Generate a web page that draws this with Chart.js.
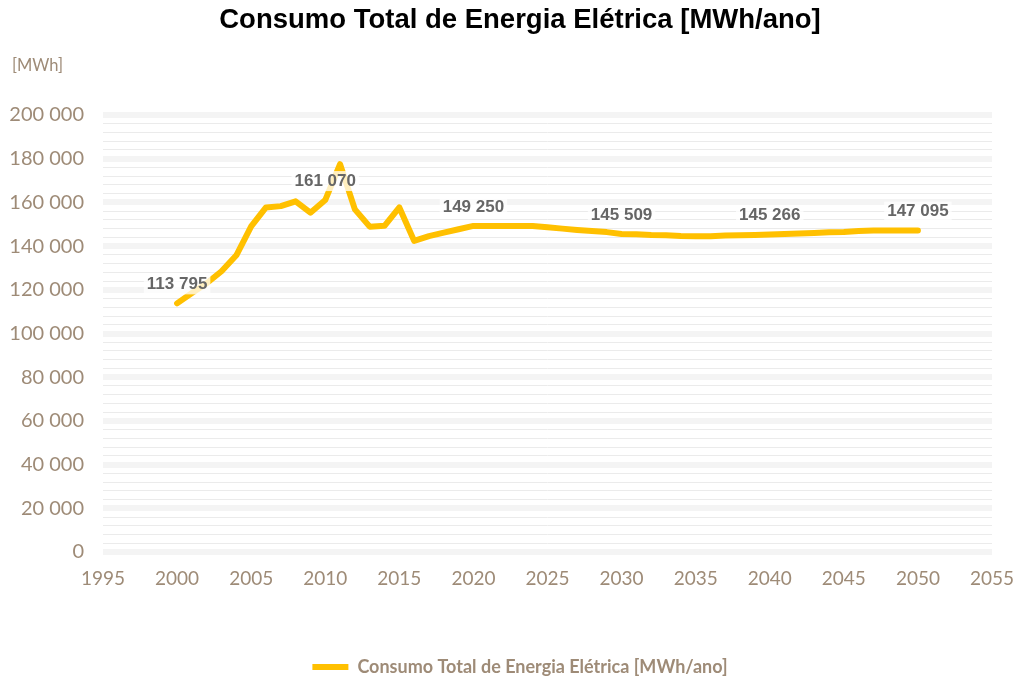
<!DOCTYPE html>
<html lang="pt">
<head>
<meta charset="utf-8">
<title>Consumo Total de Energia Elétrica</title>
<script src="https://cdn.jsdelivr.net/npm/chart.js@4/dist/chart.umd.min.js"></script>
<style>
    html, body { margin: 0; padding: 0; background: #ffffff; overflow: hidden; }
    /* a caixa é um pouco maior que a janela para centrar título e legenda como no original */
    #chart-box { width: 1040px; height: 686px; }
</style>
</head>
<body>
<div id="chart-box"><canvas id="energyChart"></canvas></div>
<script>
const years = [
    2000, 2001, 2002, 2003, 2004, 2005, 2006, 2007, 2008, 2009,
    2010, 2011, 2012, 2013, 2014, 2015, 2016, 2017, 2018, 2019,
    2020, 2021, 2022, 2023, 2024, 2025, 2026, 2027, 2028, 2029,
    2030, 2031, 2032, 2033, 2034, 2035, 2036, 2037, 2038, 2039,
    2040, 2041, 2042, 2043, 2044, 2045, 2046, 2047, 2048, 2049,
    2050
];
const consumo = [
    113795, 118500, 123000, 128500, 135800, 149000, 157700, 158300, 160500, 155300,
    161070, 177500, 156800, 148900, 149300, 157700, 142400, 144600, 146200, 147700,
    149250, 149250, 149250, 149250, 149200, 148600, 148000, 147400, 146900, 146400,
    145509, 145400, 145100, 145000, 144600, 144500, 144500, 144800, 145000, 145100,
    145266, 145500, 145800, 146000, 146300, 146500, 146900, 147095, 147095, 147095,
    147095
];
const labelYears = [2000, 2010, 2020, 2030, 2040, 2050];
const seriesName = 'Consumo Total de Energia Elétrica [MWh/ano]';
const unitLabel = '[MWh]';

const brown = '#9e8b77';
const gold = '#ffc000';

function formatNumber(num) {
    return num.toString().replace(/\B(?=(\d{3})+(?!\d))/g, " ");
}

// rótulos de valor com fundo branco, por cima da linha
const valueLabels = {
    id: 'valueLabels',
    afterDatasetsDraw(chart) {
        const ctx = chart.ctx;
        const meta = chart.getDatasetMeta(0);
        ctx.save();
        ctx.font = 'bold 17px "Liberation Sans", Arial, sans-serif';
        ctx.textAlign = 'center';
        ctx.textBaseline = 'middle';
        labelYears.forEach(year => {
            const i = years.indexOf(year);
            const pt = meta.data[i];
            const text = formatNumber(consumo[i]);
            const w = ctx.measureText(text).width;
            const y = pt.y - 19;
            ctx.fillStyle = 'rgba(255,255,255,0.75)';
            ctx.fillRect(pt.x - w / 2 - 3, y - 10, w + 6, 20);
            ctx.fillStyle = '#666666';
            ctx.fillText(text, pt.x, y);
        });
        ctx.restore();
    }
};

const unitText = {
    id: 'unitText',
    afterDraw(chart) {
        const ctx = chart.ctx;
        ctx.save();
        ctx.font = '16.5px Lato, sans-serif';
        ctx.fillStyle = brown;
        ctx.textAlign = 'left';
        ctx.textBaseline = 'middle';
        ctx.fillText(unitLabel, 12, 66);
        ctx.restore();
    }
};

function createChart() {
    const ctx = document.getElementById('energyChart').getContext('2d');

    const chartData = {
        datasets: [{
            label: seriesName,
            data: years.map((year, i) => ({ x: year, y: consumo[i] })),
            borderColor: gold,
            backgroundColor: gold,
            borderWidth: 6,
            borderCapStyle: 'round',
            borderJoinStyle: 'round',
            pointRadius: 0,
            pointStyle: 'line',
            tension: 0
        }]
    };

    const chartOptions = {
        responsive: true,
        maintainAspectRatio: false,
        animation: false,
        layout: { padding: 0 },
        plugins: {
            title: {
                display: true,
                text: 'Consumo Total de Energia Elétrica [MWh/ano]',
                color: '#000000',
                font: { family: '"Liberation Sans", Arial, sans-serif', size: 27.5, weight: 'bold' },
                padding: { top: 4, bottom: 78 }
            },
            legend: {
                position: 'bottom',
                labels: {
                    usePointStyle: true,
                    pointStyleWidth: 36,
                    color: brown,
                    font: { family: 'Lato, sans-serif', size: 18, weight: 'bold' },
                    padding: 4
                }
            },
            tooltip: { enabled: false }
        },
        scales: {
            x: {
                type: 'linear',
                min: 1995,
                max: 2055,
                afterFit: scale => {
                    scale.height = 102;
                    scale.paddingLeft = 0;
                    scale.paddingRight = 48;
                },
                grid: { display: false, drawTicks: false },
                border: { display: false },
                ticks: {
                    stepSize: 5,
                    padding: 15,
                    color: brown,
                    font: { family: 'Lato, sans-serif', size: 19 },
                    callback: value => value.toString()
                }
            },
            y: {
                min: 0,
                max: 200000,
                afterFit: scale => { scale.width = 103; },
                border: { display: false },
                grid: {
                    drawTicks: false,
                    color: c => (c.tick && c.tick.value % 20000 === 0) ? '#f4f4f4' : '#ebebeb',
                    lineWidth: c => (c.tick && c.tick.value % 20000 === 0) ? 6 : 1
                },
                ticks: {
                    stepSize: 4000,
                    maxTicksLimit: 60,
                    autoSkip: false,
                    padding: 19,
                    color: brown,
                    font: { family: 'Lato, sans-serif', size: 20 },
                    callback: value => value % 20000 === 0 ? formatNumber(value) : ''
                }
            }
        }
    };

    new Chart(ctx, {
        type: 'line',
        data: chartData,
        options: chartOptions,
        plugins: [valueLabels, unitText]
    });
}

createChart();
</script>
</body>
</html>
